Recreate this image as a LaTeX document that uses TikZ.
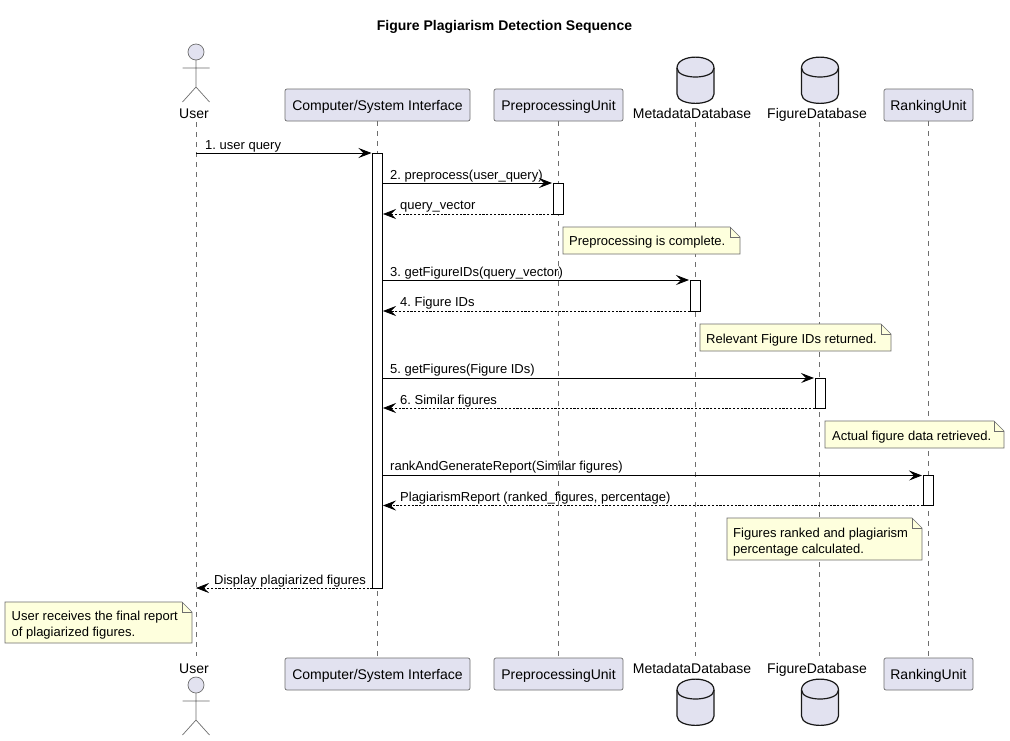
\documentclass[tikz,border=0pt]{standalone}
\usepackage{fontspec}
\setmainfont{Liberation Sans}
\usetikzlibrary{arrows.meta,calc}
\frenchspacing
\definecolor{partfill}{HTML}{E2E2F0}
\definecolor{edgeink}{HTML}{181818}
\definecolor{notefill}{HTML}{FEFFDD}
\definecolor{lifegray}{HTML}{6E6E6E}
\tikzset{
  partbox/.style={draw=lifegray,fill=partfill,rounded corners=2pt,line width=0.7pt,minimum height=32pt,inner sep=0pt,text height=11pt,text depth=1pt,font=\fontsize{14}{16}\selectfont},
  partlabel/.style={inner sep=0pt,anchor=base,font=\fontsize{14}{16}\selectfont},
  msglabel/.style={inner sep=0pt,anchor=base west,font=\fontsize{13}{15}\selectfont},
  notelabel/.style={inner sep=0pt,anchor=base west,align=left,font=\fontsize{13}{16}\selectfont},
  lifeline/.style={draw=lifegray,line width=0.6pt,dash pattern=on 5pt off 5pt},
  actbar/.style={draw=black,fill=white,line width=0.8pt,minimum width=10pt,inner sep=0pt,outer sep=0pt},
  callmsg/.style={draw=black,line width=0.8pt,-{Stealth[length=13pt,width=10pt,inset=5pt]}},
  retmsg/.style={draw=black,line width=0.7pt,dash pattern=on 2.2pt off 1.6pt,-{Stealth[length=13pt,width=10pt,inset=5pt]}},
  notepath/.style={draw=lifegray,fill=notefill,line width=0.6pt},
  dbcyl/.pic={
    \path[draw=edgeink,fill=partfill,line width=1.2pt]
      (-18.5,11) .. controls (-18.5,-3.5) and (18.5,-3.5) .. (18.5,11)
      -- (18.5,37) .. controls (18.5,49.5) and (-18.5,49.5) .. (-18.5,37) -- cycle;
    \path[draw=edgeink,line width=1.2pt]
      (-18.5,11) .. controls (-18.5,23) and (18.5,23) .. (18.5,11);
  },
  stickman/.pic={
    \path[draw=lifegray,fill=partfill,line width=0.7pt] (0,8) circle[radius=8];
    \path[draw=lifegray,line width=0.7pt] (0,16) -- (0,43) (-13.5,24) -- (13.5,24)
      (-13.5,58) -- (0,43) -- (13.5,58);
  }
}
\newcommand{\notefold}[4]{% x1 y1 x2 y2
  \path[notepath] (#1,#2) -- (#3-10,#2) -- (#3,#2+10) -- (#3,#4) -- (#1,#4) -- cycle;
  \path[notepath,fill=none] (#3-10,#2) -- (#3-10,#2+10) -- (#3,#2+10);
}
\begin{document}
\begin{tikzpicture}[x=1pt,y=-1pt]
\useasboundingbox[fill=white] (0,0) rectangle (1010,740);

\node[inner sep=0pt,anchor=base,font=\bfseries\fontsize{14}{16}\selectfont] (title) at (504.5,30) {Figure Plagiarism Detection Sequence};

% top participants
\pic at (196,44) {stickman};
\node[partlabel] (userT) at (194,118) {User};
\node[partbox,minimum width=185pt] (csiT) at (377.5,105) {Computer/System Interface};
\node[partbox,minimum width=129pt] (preT) at (558.5,105) {PreprocessingUnit};
\pic at (695.5,57) {dbcyl};
\node[partlabel] (metaT) at (692,118) {MetadataDatabase};
\pic at (820,57) {dbcyl};
\node[partlabel] (figT) at (817,118) {FigureDatabase};
\node[partbox,minimum width=89pt] (rankT) at (928.5,105) {RankingUnit};

% bottom participants
\pic at (196,677) {stickman};
\node[partlabel] (userB) at (194,673) {User};
\node[partbox,minimum width=185pt] (csiB) at (377.5,674) {Computer/System Interface};
\node[partbox,minimum width=129pt] (preB) at (558.5,674) {PreprocessingUnit};
\pic at (695.5,679) {dbcyl};
\node[partlabel] (metaB) at (692,673) {MetadataDatabase};
\pic at (820,679) {dbcyl};
\node[partlabel] (figB) at (817,673) {FigureDatabase};
\node[partbox,minimum width=89pt] (rankB) at (928.5,674) {RankingUnit};

% lifeline ends
\coordinate (uTop) at (196,122);   \coordinate (uBot) at (196,656);
\coordinate (mTop) at (695.5,122); \coordinate (mBot) at (695.5,656);
\coordinate (fTop) at (819,122);   \coordinate (fBot) at (819,656);

\path[lifeline] (uTop) -- (uBot);
\path[lifeline] (csiT.south) -- (csiB.north);
\path[lifeline] (preT.south) -- (preB.north);
\path[lifeline] (mTop) -- (mBot);
\path[lifeline] (fTop) -- (fBot);
\path[lifeline] (rankT.south) -- (rankB.north);

% activation bars
\node[actbar,minimum height=435pt] (barC) at (377.5,370.5) {};
\node[actbar,minimum height=31pt] (barP) at (558,198.5) {};
\node[actbar,minimum height=31pt] (barM) at (695,295.5) {};
\node[actbar,minimum height=30pt] (barF) at (820,393) {};
\node[actbar,minimum height=30pt] (barR) at (928,490.5) {};

% message end points
\coordinate (m1a) at (196,153);
\coordinate (m1b) at (371.5,153);
\coordinate (m2a) at (382.5,183);
\coordinate (m3a) at (382.5,280);
\coordinate (m5a) at (382.5,378);
\coordinate (m7a) at (382.5,475.5);
\coordinate (r1b) at (383,214);
\coordinate (r2b) at (383,311);
\coordinate (r3b) at (383,408);
\coordinate (r4b) at (383,505.5);
\coordinate (lastb) at (196,588);

\draw[callmsg] (m1a) -- (m1b);
\node[msglabel] (t1) at (205,149) {1. user query};
\draw[callmsg] (m2a) -- ($(barP.north west)+(-1,0)$);
\node[msglabel] (t2) at (390,179) {2. preprocess(user\_query)};
\draw[retmsg] (barP.south west) -- (r1b);
\node[msglabel] (t3) at (400,209) {query\_vector};
\draw[callmsg] (m3a) -- ($(barM.north west)+(-1,0)$);
\node[msglabel] (t4) at (390,276) {3. getFigureIDs(query\_vector)};
\draw[retmsg] (barM.south west) -- (r2b);
\node[msglabel] (t5) at (400,306) {4. Figure IDs};
\draw[callmsg] (m5a) -- ($(barF.north west)+(-1,0)$);
\node[msglabel] (t6) at (390,373) {5. getFigures(Figure IDs)};
\draw[retmsg] (barF.south west) -- (r3b);
\node[msglabel] (t7) at (400,404) {6. Similar figures};
\draw[callmsg] (m7a) -- ($(barR.north west)+(-1,0)$);
\node[msglabel] (t8) at (390,470) {rankAndGenerateReport(Similar figures)};
\draw[retmsg] (barR.south west) -- (r4b);
\node[msglabel] (t9) at (400,501) {PlagiarismReport (ranked\_figures, percentage)};
\draw[retmsg] (barC.south west) -- (lastb);
\node[msglabel] (t10) at (214,584) {Display plagiarized figures};

% notes
\notefold{563}{227}{740}{254}
\node[notelabel] (n1) at (569,245) {Preprocessing is complete.};
\notefold{700}{324}{891}{351}
\node[notelabel] (n2) at (706,343) {Relevant Figure IDs returned.};
\notefold{825}{421}{1004}{448}
\node[notelabel] (n3) at (832,440) {Actual figure data retrieved.};
\notefold{727}{518}{922}{560}
\node[notelabel] (n4) at (733,553) {Figures ranked and plagiarism\\percentage calculated.};
\notefold{5}{602}{192}{643}
\node[notelabel] (n5) at (11.5,636) {User receives the final report\\of plagiarized figures.};
\end{tikzpicture}
\end{document}
